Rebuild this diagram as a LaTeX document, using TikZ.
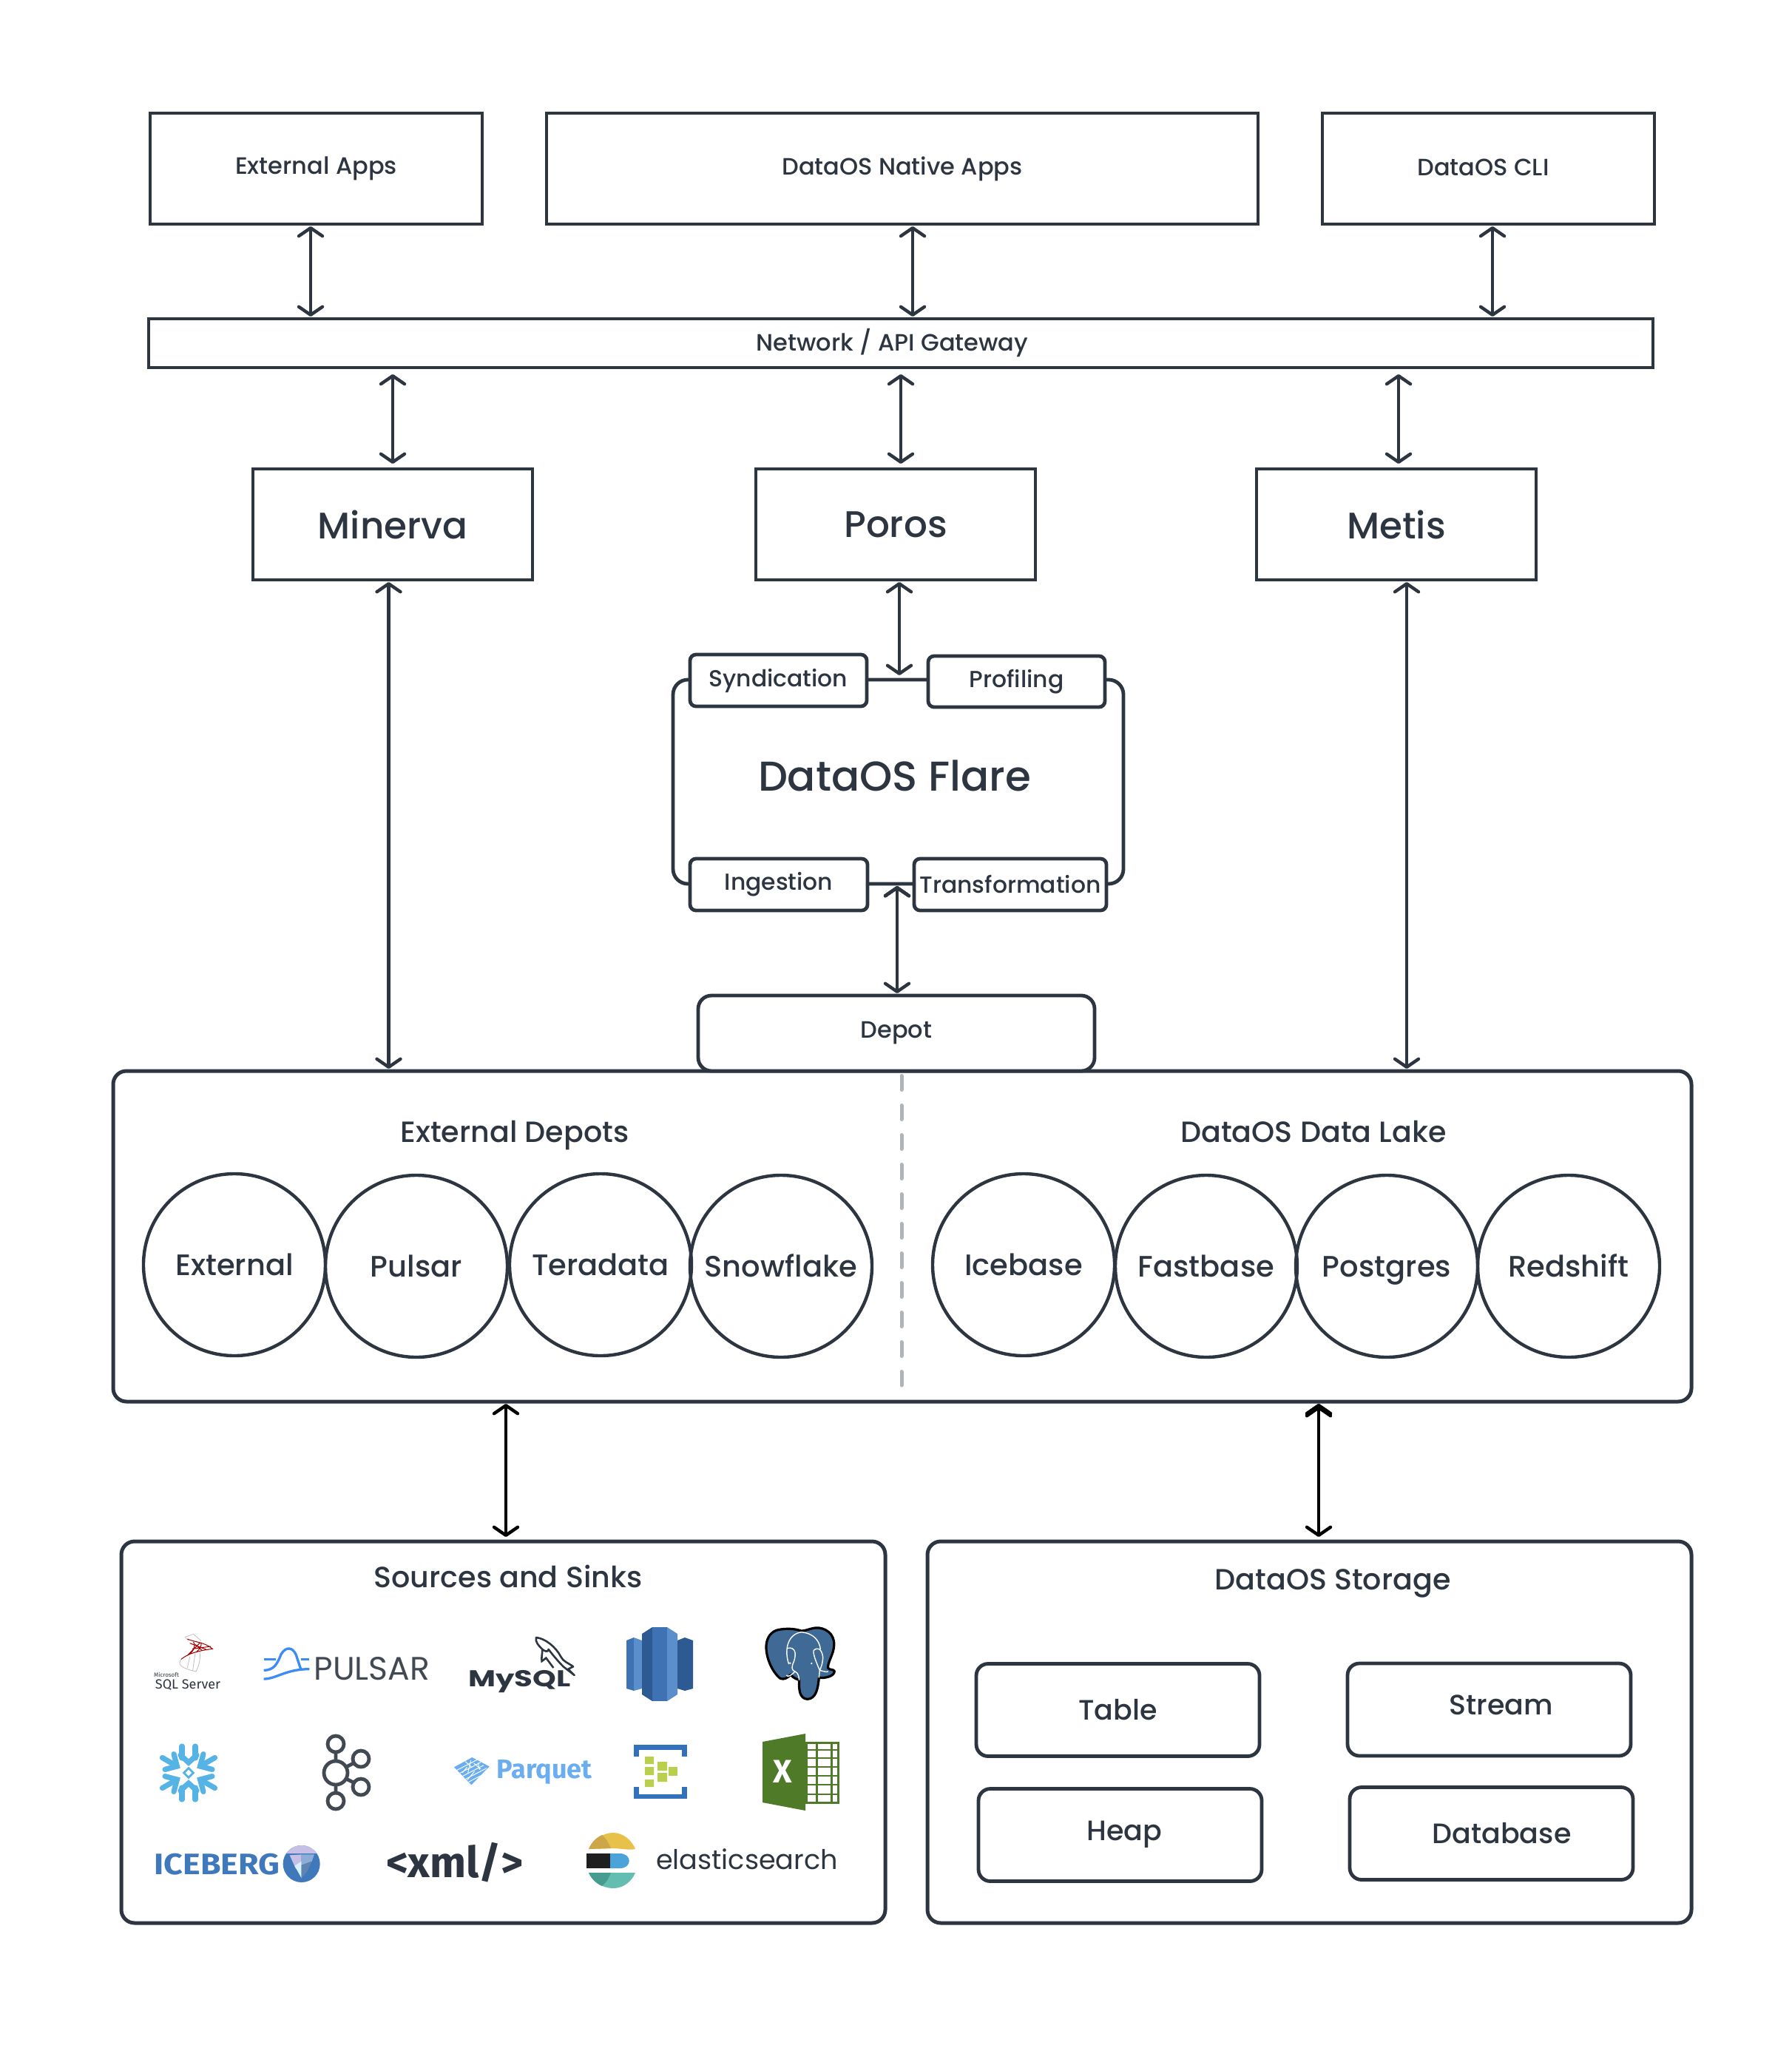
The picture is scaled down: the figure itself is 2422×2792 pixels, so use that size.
\documentclass[tikz,border=0pt]{standalone}
\usepackage{fontspec}
\setmainfont{Poppins Medium}
\newfontfamily\logofont{Fira Sans}
\newfontfamily\plainfont{Poppins}
\usetikzlibrary{arrows.meta,shapes.geometric}
\definecolor{ink}{HTML}{2D3540}
\definecolor{dashgray}{HTML}{B0B4BA}
\definecolor{rsdark}{HTML}{2E5A94}
\definecolor{rsmid}{HTML}{3F72B5}
\definecolor{rslight}{HTML}{5A8FCB}
\definecolor{pgblue}{HTML}{3F6A96}
\definecolor{pulsarblue}{HTML}{3C8CF5}
\definecolor{snow}{HTML}{56B3E6}
\definecolor{parq}{HTML}{6AAEF0}
\definecolor{hubblue}{HTML}{3272BD}
\definecolor{hubgreen}{HTML}{B8D04C}
\definecolor{xlgreen}{HTML}{4F7A28}
\definecolor{icebl}{HTML}{3F78BB}
\definecolor{esyellow}{HTML}{E8C14A}
\definecolor{esgold}{HTML}{CEA64A}
\definecolor{esblue}{HTML}{4BA3DA}
\definecolor{esteal}{HTML}{63BDB0}
\definecolor{esgreen}{HTML}{459C8F}
\begin{document}
\begin{tikzpicture}[
		x=0.5pt,y=-0.5pt,
		> = {Straight Barb[length=5.5pt,width=16pt,round]},
		box/.style={draw=ink,line width=2.4pt,fill=white,outer sep=0pt,inner sep=0pt,text=ink,font=\fontsize{16}{18}\selectfont},
		bigbox/.style={box,font=\fontsize{25}{28}\selectfont},
		rbox/.style={box,rounded corners=9pt},
		tagbox/.style={box,rounded corners=4pt,font=\fontsize{15.7}{18}\selectfont},
		storebox/.style={rbox,rounded corners=8pt,minimum width=191.5pt,minimum height=62.5pt,font=\fontsize{19}{22}\selectfont},
		storetxt/.style={text=ink,font=\fontsize{19}{22}\selectfont},
		depotc/.style={draw=ink,line width=2.2pt,circle,minimum size=123pt,inner sep=0pt,outer sep=0pt,text=ink,text height=17pt,text depth=3pt,font=\fontsize{20}{22}\selectfont},
		heading/.style={text=ink,inner sep=0pt,text height=17pt,text depth=3pt,font=\fontsize{19.8}{22}\selectfont},
		logotext/.style={inner sep=0pt,text=ink},
		conn/.style={<->,draw=ink,line width=2.2pt,shorten >=1.5pt,shorten <=1.5pt},
		connb/.style={conn,draw=black,shorten >=3pt},
		gapped/.style={shorten <=4.5pt,shorten >=3.5pt},
		% logos are drawn in the pixels of a crop
		crop/.style={shift={#1},x=0.16667pt,y=-0.16667pt}
		]
		\useasboundingbox (0,0) rectangle (2422,2792);
		\fill[white] (0,0) rectangle (2422,2792);
		% top row
		\node[box,minimum width=224.5pt,minimum height=75pt] at (427.5,228) (extapps) {\raisebox{2pt}{External Apps}};
		\node[box,minimum width=481pt,minimum height=75pt] at (1220,228) (native) {\raisebox{2pt}{DataOS Native Apps}};
		\node[box,minimum width=224.5pt,minimum height=75pt,label={[xshift=-3.5pt,yshift=1pt,text=ink,font=\fontsize{16}{18}\selectfont]center:DataOS CLI}] at (2012.5,228) (cli) {};
		\node[box,minimum width=1017pt,minimum height=33pt,label={[xshift=-5.8pt,text=ink,font=\fontsize{16}{18}\selectfont]center:Network / API Gateway}] at (1218,464) (gateway) {};
		% engines
		\node[bigbox,minimum width=189pt,minimum height=75pt] at (531,709) (minerva) {Minerva};
		\node[bigbox,minimum width=189pt,minimum height=75pt] at (1211,709) (poros) {Poros};
		\node[bigbox,minimum width=189pt,minimum height=75pt] at (1888,709) (metis) {Metis};
		% flare
		\node[rbox,rounded corners=10pt,minimum width=304.5pt,minimum height=138pt,label={[xshift=-2.5pt,yshift=4pt,text=ink,font=\fontsize{28.2}{32}\selectfont]center:DataOS Flare}] at (1214.5,1057) (flare) {};
		\node[tagbox,minimum width=119.5pt,minimum height=35pt] at (1052.5,920) (synd) {Syndication};
		\node[tagbox,minimum width=119.5pt,minimum height=34.5pt] at (1374.5,921.5) (prof) {Profiling};
		\node[tagbox,minimum width=120pt,minimum height=35pt] at (1053,1196) (ingest) {Ingestion};
		\node[tagbox,minimum width=130pt,minimum height=35pt] at (1366,1196) (transf) {Transformation};
		% depots
		\node[rbox,line width=2.5pt,minimum width=1067pt,minimum height=223.5pt] at (1220,1671.5) (depots) {};
		\node[rbox,minimum width=268pt,minimum height=51pt] at (1212,1397) (depot) {Depot};
		\draw[line width=2.5pt,color=dashgray,line cap=round,dash pattern=on 9.5pt off 10.5pt] (1219,1454.5) -- (1219,1873);
		\node[heading] at (696,1530) (extdepots) {External Depots};
		\node[heading] at (1776,1530) (datalake) {DataOS Data Lake};
		\node[depotc] at (317,1710) (external) {External};
		\node[depotc] at (563,1712) (pulsar) {Pulsar};
		\node[depotc] at (812,1710) (teradata) {Teradata};
		\node[depotc] at (1056,1712) (snowflake) {Snowflake};
		\node[depotc] at (1384,1710) (icebase) {Icebase};
		\node[depotc] at (1631,1712) (fastbase) {Fastbase};
		\node[depotc] at (1875,1712) (postgres) {Postgres};
		\node[depotc] at (2121,1712) (redshift) {Redshift};
		% bottom row
		\node[rbox,line width=2.5pt,minimum width=516.5pt,minimum height=258pt] at (680.5,2342) (sources) {};
		\node[rbox,line width=2.5pt,minimum width=516.5pt,minimum height=258pt] at (1770.5,2342) (storage) {};
		\node[heading] at (687,2132) (sourcestitle) {Sources and Sinks};
		\node[heading] at (1802,2135) (storagetitle) {DataOS Storage};
		\node[storebox] at (1511.5,2312) (tablebox) {Table};
		\node[storebox,label={[xshift=8pt,yshift=3pt,storetxt]center:Stream}] at (2013.5,2311.5) (stream) {};
		\node[storebox,label={[xshift=3pt,yshift=.5pt,storetxt]center:Heap}] at (1514.5,2481) (heap) {};
		\node[storebox,label={[xshift=7pt,storetxt]center:Database}] at (2016.5,2479) (database) {};
		% connectors
		\path[conn]
		([xshift=-3.75pt]extapps.south) edge ([xshift=-399pt]gateway.north)
		([xshift=7pt]native.south) edge ([xshift=8pt]gateway.north)
		([xshift=2.75pt]cli.south) edge ([xshift=400pt]gateway.north)
		([xshift=-343.5pt]gateway.south) edge[gapped] (minerva.north)
		(gateway.south) edge[gapped] ([xshift=3.5pt]poros.north)
		([xshift=336.5pt]gateway.south) edge[gapped] ([xshift=1.5pt]metis.north)
		([xshift=-2.75pt]minerva.south) edge ([xshift=-347.25pt]depots.north)
		([xshift=7pt]metis.south) edge ([xshift=341pt]depots.north)
		([xshift=2.5pt]poros.south) edge[shorten >=3pt] ([xshift=.75pt]flare.north)
		([xshift=-.75pt]flare.south) edge ([xshift=.5pt]depot.north);
		\path[connb]
		([xshift=-268pt]depots.south) edge ([xshift=1.75pt]sources.north)
		([xshift=281.5pt]depots.south) edge ([xshift=6.25pt]storage.north);
		% sql server
		\begin{scope}[crop={(190,2190)}]
			\draw[black!25,line width=.4pt] (180,70) -- (215,58) -- (245,85) (180,70) -- (195,85) (165,160) .. controls (150,180) and (160,195) .. (225,210) (240,125) .. controls (245,165) and (235,190) .. (225,210) (200,150) -- (190,195) (222,135) -- (212,205);
			\draw[red!65!black,line width=.5pt] (190,78) .. controls (215,90) and (260,90) .. (292,118) .. controls (240,125) and (195,135) .. (165,160) (215,90) .. controls (225,110) and (215,130) .. (190,145) (245,92) .. controls (250,105) and (240,120) .. (225,132) (200,95) -- (270,122) (210,118) -- (285,108) (190,145) -- (240,95) (250,125) -- (222,100);
		\end{scope}
		\node[logotext,anchor=base,font=\logofont\fontsize{4}{5}\selectfont] at (225,2267) (mslogo) {Microsoft};
		\node[logotext,anchor=base,font=\logofont\fontsize{9}{10}\selectfont] at (254,2283) (sqllogo) {SQL Server};
		% pulsar
		\begin{scope}[crop={(190,2190)},pulsarblue,line width=1.65pt]
			\draw (500,160) -- (548,160) (650,160) -- (685,160);
			\draw (500,205) .. controls (540,205) and (555,180) .. (570,140) .. controls (590,108) and (615,110) .. (630,140) -- (650,200);
			\draw (500,240) .. controls (550,240) and (590,200) .. (685,200);
		\end{scope}
		\node[logotext,text=ink!90,font=\plainfont\fontsize{22}{24}\selectfont] at (503,2256) (pulsarlogo) {PULSAR};
		% mysql
		\node[logotext,anchor=base,font=\plainfont\bfseries\fontsize{15.5}{18}\selectfont] at (702.5,2280) (mysqllogo) {\scalebox{1.3}[1]{MySQL}};
		\begin{scope}[crop={(620,2190)}]
			\draw[ink,line width=1.3pt,line join=round,fill=white] (315,72) .. controls (350,75) and (395,110) .. (415,150) .. controls (425,170) and (445,175) .. (465,190) -- (445,200) -- (470,225) -- (425,190) .. controls (405,170) and (380,140) .. (365,120) .. controls (365,135) and (345,125) .. (340,120) .. controls (325,105) and (310,90) .. (315,72) -- cycle;
			\draw[ink,line width=1.3pt] (340,120) .. controls (340,140) and (335,155) .. (338,168) -- (355,155) -- (385,195);
		\end{scope}
		% redshift
		\fill[rsmid] (847,2218) -- (857,2214) -- (857,2286) -- (847,2283) -- cycle;
		\fill[rslight] (857,2214) -- (868,2218) -- (868,2283) -- (857,2286) -- cycle;
		\fill[rsdark] (868,2209) -- (882,2200) -- (882,2300) -- (868,2291) -- cycle;
		\fill[rsmid] (882,2200) rectangle (902,2300);
		\fill[rslight] (902,2200) -- (916,2209) -- (916,2291) -- (902,2300) -- cycle;
		\fill[rsdark] (916,2218) -- (926,2214) -- (937,2218) -- (937,2283) -- (926,2286) -- (916,2283) -- cycle;
		% postgres
		\begin{scope}[crop={(1020,2190)}]
			\draw[black,line width=1.6pt,fill=pgblue,line join=round] (100,40) .. controls (70,45) and (50,70) .. (48,105) .. controls (46,150) and (70,210) .. (105,238) .. controls (120,245) and (135,235) .. (148,222) .. controls (160,240) and (175,240) .. (182,245) .. controls (180,280) and (182,320) .. (215,322) .. controls (250,320) and (258,280) .. (262,235) .. controls (285,238) and (325,230) .. (325,208) .. controls (320,200) and (305,205) .. (298,195) .. controls (300,160) and (330,130) .. (322,85) .. controls (315,45) and (270,25) .. (235,35) .. controls (215,40) and (205,45) .. (190,45) .. controls (160,35) and (130,35) .. (100,40) -- cycle;
			\draw[white,line width=.7pt] (140,180) .. controls (122,130) and (130,60) .. (190,50) .. controls (245,55) and (265,90) .. (268,120);
			\draw[white,line width=.7pt] (135,115) .. controls (165,110) and (172,135) .. (160,170) .. controls (150,190) and (150,205) .. (165,210) .. controls (150,225) and (135,235) .. (130,225);
			\draw[white,line width=.7pt] (240,125) .. controls (255,110) and (272,115) .. (278,150) .. controls (278,175) and (270,195) .. (265,205) .. controls (285,210) and (300,215) .. (298,208) (240,125) .. controls (238,140) and (250,170) .. (265,205) -- (262,235);
			\draw[white,line width=.7pt] (165,210) .. controls (180,215) and (180,235) .. (182,245);
			\fill[white] (145,176) circle (4) (232,177) circle (4);
		\end{scope}
		% snowflake
		\foreach \a in {30,150,210,330}{
			\begin{scope}[shift={(255,2397)},rotate=\a]
				\draw[snow,line width=3.6pt,line cap=round] (41,0) -- (18,0);
				\draw[snow,line width=3.6pt,line cap=round] (30,12) -- (18,0) -- (30,-12);
			\end{scope}}
		\foreach \a in {90,270}{
			\begin{scope}[shift={(255,2397)},rotate=\a]
				\draw[snow,line width=3.6pt,line cap=round] (36,9) -- (20,9) (36,-9) -- (20,-9);
				\draw[snow,line width=3.6pt,line cap=round] (24,11) -- (14,0) -- (24,-11);
			\end{scope}}
		\node[diamond,draw=snow,line width=1.4pt,minimum size=7pt,inner sep=0pt] at (255,2397) (snowcore) {};
		% kafka
		\draw[ink!90,line width=2.4pt] (454,2370) -- (454,2381) (454,2412) -- (454,2423) (468,2389) -- (478,2384) (468,2405) -- (478,2410);
		\draw[ink!90,line width=2.4pt] (454,2358) circle (11) (454,2397) circle (16) (488,2378) circle (11) (488,2416) circle (11) (454,2435) circle (11);
		% parquet
		\begin{scope}[crop={(600,2360)}]
			\fill[parq] (42,88) -- (115,48) -- (185,85) -- (112,160) -- cycle;
			\foreach \t in {1,...,5}{
				\draw[white,line width=.5pt] ({42+11.7*\t},{88+12*\t}) -- ++(85,-44);}
			\draw[white,line width=.5pt] (88,65) -- (115,90) (110,60) -- (98,110) (140,70) -- (145,98) (75,110) -- (95,88) (95,140) -- (125,105) (122,72) -- (150,95);
		\end{scope}
		\node[logotext,text=parq,font=\logofont\bfseries\fontsize{18}{22}\selectfont] at (736,2396) (parquetlogo) {Parquet};
		% event hub
		\draw[hubblue,line width=3.4pt] (860.5,2375) -- (860.5,2362.5) -- (925.5,2362.5) -- (925.5,2375);
		\draw[hubblue,line width=3.4pt] (860.5,2416) -- (860.5,2429) -- (925.5,2429) -- (925.5,2416);
		\fill[hubgreen] (872,2375) rectangle (884,2385) (872,2389) rectangle (884,2400) (872,2406) rectangle (884,2416);
		\fill[hubgreen] (889,2382) rectangle (902,2394) (889,2397) rectangle (902,2409);
		\fill[hubgreen] (904,2389) rectangle (916,2401);
		% excel
		\draw[xlgreen,line width=1.5pt] (1090,2356) rectangle (1133,2437);
		\foreach \y in {2366,2377,2389,2401,2413,2426}{
			\draw[xlgreen,line width=1.1pt] (1090,\y) -- (1133,\y);}
		\draw[xlgreen,line width=1.5pt] (1104,2356) -- (1104,2437) (1124,2356) -- (1124,2437);
		\fill[xlgreen] (1031,2355) -- (1089,2344) -- (1089,2448) -- (1031,2437) -- cycle;
		\node[inner sep=0pt,text=white,font=\logofont\bfseries\fontsize{22}{26}\selectfont] at (1058.5,2395) (xlx) {X};
		% iceberg
		\node[logotext,anchor=base,text=icebl,font=\logofont\bfseries\fontsize{20}{24}\selectfont] at (293.5,2534) (iceberglogo) {\scalebox{1.12}[1]{ICEBERG}};
		\begin{scope}[crop={(370,2480)}]
			\fill[icebl] (113,120) circle (75);
			\begin{scope}
				\clip (113,120) circle (75);
				\fill[cyan!10!blue!22!white] (30,40) rectangle (195,78);
			\end{scope}
			\fill[cyan!10!blue!22!white] (65,85) -- (113,82) -- (113,125) -- (90,140) -- cycle;
			\fill[white!85!cyan] (85,128) -- (113,110) -- (113,178) -- cycle;
			\fill[icebl!60!white] (113,82) -- (165,82) -- (155,110) -- (113,125) -- cycle;
			\fill[icebl!85!black!80!white] (113,125) -- (155,110) -- (135,152) -- (113,178) -- cycle;
		\end{scope}
		% xml
		\node[logotext,font=\logofont\bfseries\fontsize{29}{34}\selectfont] at (615,2518) (xmllogo) {<xml/>};
		% elastic
		\fill[esyellow] (796,2500) .. controls (801,2488) and (815,2478) .. (829,2478) .. controls (843,2478) and (854,2488) .. (859,2500) .. controls (850,2502) and (840,2499) .. (828,2499) -- cycle;
		\fill[esgold] (796,2500) .. controls (800,2490) and (807,2484) .. (814,2481) .. controls (820,2486) and (823,2492) .. (826,2499) -- cycle;
		\fill[black!88] (793,2506) rectangle (825,2526);
		\fill[esblue] (825,2506) -- (838,2506) .. controls (855,2506) and (855,2526) .. (838,2526) -- (825,2526) -- cycle;
		\fill[esteal] (796,2532) -- (859,2532) .. controls (854,2544) and (843,2553) .. (829,2553) .. controls (815,2553) and (801,2544) .. (796,2532) -- cycle;
		\fill[esgreen] (796,2532) -- (826,2532) .. controls (823,2540) and (820,2545) .. (814,2550) .. controls (807,2547) and (800,2541) .. (796,2532) -- cycle;
		\node[logotext,font=\plainfont\fontsize{18.3}{22}\selectfont] at (1010,2514) (elasticlogo) {elasticsearch};
	\end{tikzpicture}
\end{document}
